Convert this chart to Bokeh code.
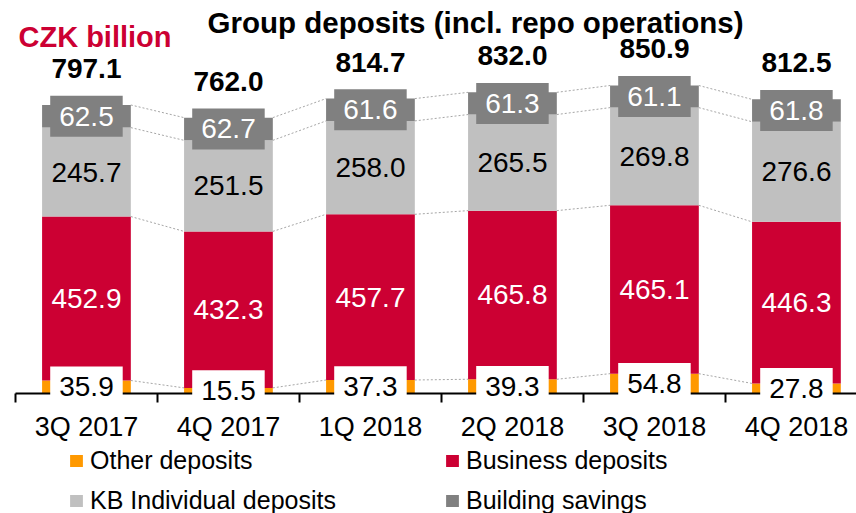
import numpy as np
from bokeh.plotting import figure
from bokeh.models import (ColumnDataSource, LabelSet, Label, Legend, LegendItem,
                          FixedTicker, Range1d)
from bokeh.core.properties import value
from bokeh.embed import file_html
from bokeh.resources import INLINE

# ---- data ----
quarters = ["3Q 2017", "4Q 2017", "1Q 2018", "2Q 2018", "3Q 2018", "4Q 2018"]
other = [35.9, 15.5, 37.3, 39.3, 54.8, 27.8]
business = [452.9, 432.3, 457.7, 465.8, 465.1, 446.3]
individual = [245.7, 251.5, 258.0, 265.5, 269.8, 276.6]
building = [62.5, 62.7, 61.6, 61.3, 61.1, 61.8]
totals = [797.1, 762.0, 814.7, 832.0, 850.9, 812.5]
series_names = ["Other deposits", "Business deposits", "KB Individual deposits", "Building savings"]
series_keys = ["other", "business", "individual", "building"]
colors = ["#FF9900", "#CC0033", "#C0C0C0", "#808080"]

FONT = "Liberation Sans"
BAR_W = 0.625
x = np.arange(len(quarters))

p = figure(width=856, height=513, x_range=Range1d(-0.549, 5.423), y_range=Range1d(-331.5, 1063.5),
           output_backend="svg", toolbar_location=None, y_axis_location=None,
           min_border_left=8, min_border_right=0, min_border_top=8, min_border_bottom=0)
p.outline_line_color = None
p.grid.grid_line_color = None
p.background_fill_color = "white"
p.border_fill_color = "white"

src = ColumnDataSource(dict(x=x, other=other, business=business,
                            individual=individual, building=building))
rs = p.vbar_stack(series_keys, x="x", width=BAR_W, color=colors, line_color=None, source=src)

# cumulative levels
stack = np.array([other, business, individual, building])
cum = np.cumsum(stack, axis=0)

# dotted connectors between bars
for k in range(4):
    p.segment(x0=x[:-1] + BAR_W / 2, y0=cum[k][:-1], x1=x[1:] - BAR_W / 2, y1=cum[k][1:],
              line_color="#A6A6A6", line_width=1, line_dash="2 2")

def fmt(vals):
    return [f"{v:.1f}" for v in vals]

# segment labels without boxes
for ys, vals, tcol in [(cum[0] + stack[1] / 2, business, "white"),
                       (cum[1] + stack[2] / 2, individual, "black")]:
    s = ColumnDataSource(dict(x=x, y=ys, t=fmt(vals)))
    p.add_layout(LabelSet(x="x", y="y", text="t", source=s, text_align="center",
                          text_baseline="middle", text_font=value(FONT),
                          text_font_size="28px", text_color=tcol))

# axis (fixed at zero so boxed labels can sit over it)
ax = p.xaxis[0]
ax.fixed_location = 0
ax.ticker = FixedTicker(ticks=[int(i) for i in x], minor_ticks=[i - 0.5 for i in range(len(quarters) + 1)])
ax.major_label_overrides = {int(i): q for i, q in zip(x, quarters)}
ax.bounds = (-0.5, len(quarters) - 0.5)
ax.axis_line_color = "black"
ax.axis_line_width = 2
ax.major_tick_line_color = None
ax.major_tick_in = 0
ax.major_tick_out = 0
ax.minor_tick_line_color = "black"
ax.minor_tick_line_width = 2
ax.minor_tick_in = 0
ax.minor_tick_out = 9
ax.major_label_standoff = 10
ax.major_label_text_font = FONT
ax.major_label_text_font_size = "27px"
ax.major_label_text_color = "black"

# boxed labels (other deposits at bottom, building savings at top)
for ys, vals, tcol, bg in [(stack[0] / 2, other, "black", "white"),
                           (cum[2] + stack[3] / 2, building, "white", "#808080")]:
    for xi, yi, t in zip(x, ys, fmt(vals)):
        p.add_layout(Label(x=float(xi), y=float(yi), text=t, text_align="center",
                           text_baseline="middle", text_font=FONT, text_font_size="28px",
                           text_color=tcol, background_fill_color=bg,
                           padding=dict(left=9, right=9, top=11, bottom=11)))

# totals
ts = ColumnDataSource(dict(x=x, y=cum[3], t=fmt(totals)))
p.add_layout(LabelSet(x="x", y="y", text="t", source=ts, text_align="center",
                      text_baseline="alphabetic", y_offset=27, text_font=value(FONT),
                      text_font_size="28px", text_font_style="bold", text_color="black"))

# titles
p.add_layout(Label(x=467, y=491, x_units="screen", y_units="screen",
                   text="Group deposits (incl. repo operations)", text_align="center",
                   text_baseline="alphabetic", text_font=FONT, text_font_size="29.5px",
                   text_font_style="bold", text_color="black"))
p.add_layout(Label(x=10, y=477, x_units="screen", y_units="screen", text="CZK billion",
                   text_align="left", text_baseline="alphabetic", text_font=FONT,
                   text_font_size="29px", text_font_style="bold", text_color="#CC0033"))

# legends (two columns)
def make_legend(idx, loc):
    leg = Legend(items=[LegendItem(label=series_names[i], renderers=[rs[i]]) for i in idx],
                 location=loc, orientation="vertical")
    leg.border_line_color = None
    leg.background_fill_alpha = 0
    leg.padding = 0
    leg.margin = 0
    leg.spacing = 11
    leg.glyph_width = 16
    leg.glyph_height = 15
    leg.label_standoff = 6
    leg.label_text_font = FONT
    leg.label_text_font_size = "25px"
    leg.label_text_color = "black"
    return leg

p.add_layout(make_legend([0, 2], (60, -2)))
p.add_layout(make_legend([1, 3], (436, -2)))

open("out.html", "w").write(file_html(p, INLINE))
